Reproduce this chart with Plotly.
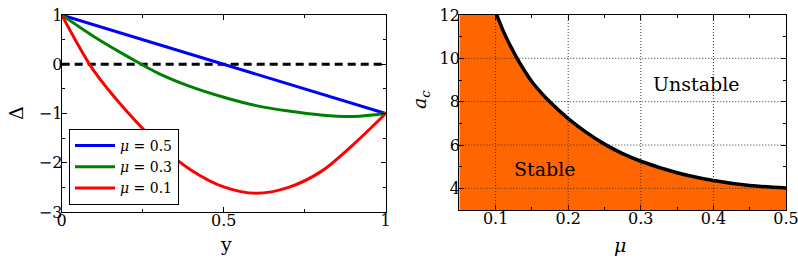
import plotly.graph_objects as go

# ---- Left panel data ----
y_blue = [0.0, 0.5, 1.0]
d_blue = [1.0, 0.0, -1.0]

y_green = [0.0, 0.1, 0.2, 0.3, 0.4, 0.5, 0.6, 0.7, 0.8, 0.9, 1.0]
d_green = [1.0, 0.56, 0.17, -0.19, -0.46, -0.67, -0.84, -0.95, -1.03, -1.06, -1.0]

y_red = [0.0, 0.05, 0.1, 0.2, 0.3, 0.4, 0.5, 0.6, 0.7, 0.8, 0.9, 1.0]
d_red = [1.0, 0.40, -0.14, -0.95, -1.63, -2.15, -2.49, -2.62, -2.50, -2.18, -1.63, -1.0]

left_xticks = [0, 0.5, 1]
left_xtext = ["0", "0.5", "1"]
left_yticks = [-3, -2, -1, 0, 1]
left_ytext = ["\u22123", "\u22122", "\u22121", "0", "1"]

# ---- Right panel data ----
mu = [0.05, 0.07, 0.08, 0.09, 0.10, 0.11, 0.12, 0.13, 0.14, 0.15, 0.175, 0.2, 0.225,
      0.25, 0.275, 0.3, 0.35, 0.4, 0.45, 0.5]
ac = [19.0, 15.7, 14.3, 13.1, 12.15, 11.3, 10.6, 9.98, 9.42, 8.92, 7.98, 7.22, 6.58,
      6.04, 5.6, 5.25, 4.72, 4.36, 4.13, 4.02]

right_xticks = [0.1, 0.2, 0.3, 0.4, 0.5]
right_xtext = ["0.1", "0.2", "0.3", "0.4", "0.5"]
right_yticks = [4, 6, 8, 10, 12]
right_ytext = ["4", "6", "8", "10", "12"]

FONT = "DejaVu Serif"
W, H = 798, 260

fig = go.Figure()

fig.add_trace(go.Scatter(x=[0, 1], y=[0, 0], mode="lines", xaxis="x", yaxis="y",
                         line=dict(color="black", width=3, dash="8px,5px"),
                         showlegend=False, hoverinfo="skip"))
fig.add_trace(go.Scatter(x=y_blue, y=d_blue, mode="lines", name="<i>μ</i> = 0.5",
                         line=dict(color="#0000FF", width=3), xaxis="x", yaxis="y"))
fig.add_trace(go.Scatter(x=y_green, y=d_green, mode="lines", name="<i>μ</i> = 0.3",
                         line=dict(color="#008000", width=3, shape="spline", smoothing=1.0),
                         xaxis="x", yaxis="y"))
fig.add_trace(go.Scatter(x=y_red, y=d_red, mode="lines", name="<i>μ</i> = 0.1",
                         line=dict(color="#FF0000", width=3, shape="spline", smoothing=1.0),
                         xaxis="x", yaxis="y"))

fig.add_trace(go.Scatter(x=mu, y=ac, mode="lines", fill="tozeroy", fillcolor="#FF6600",
                         line=dict(color="black", width=3.5, shape="spline", smoothing=1.0),
                         xaxis="x2", yaxis="y2", showlegend=False, hoverinfo="skip"))

axis_common = dict(showline=True, linecolor="black", linewidth=1.3, mirror="ticks",
                   ticks="inside", ticklen=5, tickwidth=1.3, tickcolor="black",
                   showgrid=False, zeroline=False, automargin=False,
                   ticklabeloverflow="allow",
                   tickfont=dict(family=FONT, size=16, color="black"),
                   layer="above traces")

fig.update_layout(
    width=W, height=H,
    margin=dict(l=0, r=0, t=0, b=0, autoexpand=False),
    paper_bgcolor="white", plot_bgcolor="white",
    font=dict(family=FONT, color="black"),
    xaxis=dict(domain=[61.7 / W, 385.7 / W], range=[0, 1], anchor="y",
               tickmode="array", tickvals=left_xticks, ticktext=left_xtext,
               ticklabelstandoff=-6,
               minor=dict(tickmode="linear", tick0=0, dtick=0.25, ticks="inside",
                          ticklen=3, tickwidth=1.2, tickcolor="black"),
               **axis_common),
    yaxis=dict(domain=[1 - 212 / H, 1 - 15 / H], range=[-3, 1], anchor="x",
               tickmode="array", tickvals=left_yticks, ticktext=left_ytext,
               ticklabelstandoff=-5,
               minor=dict(tickmode="linear", tick0=0, dtick=0.5, ticks="inside",
                          ticklen=3, tickwidth=1.2, tickcolor="black"),
               **axis_common),
    xaxis2=dict(domain=[459.3 / W, 786 / W], range=[0.05, 0.5], anchor="y2",
                tickmode="array", tickvals=right_xticks, ticktext=right_xtext,
                ticklabelstandoff=-6,
                minor=dict(tickmode="linear", tick0=0.05, dtick=0.05, ticks="inside",
                           ticklen=3, tickwidth=1.2, tickcolor="black"),
                **axis_common),
    yaxis2=dict(domain=[1 - 210 / H, 1 - 15 / H], range=[3, 12], anchor="x2",
                tickmode="array", tickvals=right_yticks, ticktext=right_ytext,
                ticklabelstandoff=-5,
                minor=dict(tickmode="linear", tick0=3, dtick=1, ticks="inside",
                           ticklen=3, tickwidth=1.2, tickcolor="black"),
                **axis_common),
    legend=dict(x=69 / W, y=1 - 129 / H, xanchor="left", yanchor="top",
                bgcolor="white", bordercolor="black", borderwidth=1,
                font=dict(family=FONT, size=14, color="black"),
                itemwidth=40, tracegroupgap=0),
)

# dotted grid over the filled region (right panel)
shapes = []
for v in right_xticks[:-1]:
    shapes.append(dict(type="line", xref="x2", yref="y2", x0=v, x1=v, y0=3, y1=12,
                       line=dict(color="#333333", width=1, dash="1px,2px"), layer="above"))
for v in right_yticks[:-1]:
    shapes.append(dict(type="line", xref="x2", yref="y2", x0=0.05, x1=0.5, y0=v, y1=v,
                       line=dict(color="#333333", width=1, dash="1px,2px"), layer="above"))
fig.update_layout(shapes=shapes)

ann_font = dict(family=FONT, size=19, color="black")
ann = dict(xref="paper", yref="paper", showarrow=False, xanchor="center", yanchor="middle")
fig.add_annotation(text="Δ", x=16 / W, y=1 - 113 / H, textangle=-90, font=ann_font, **ann)
fig.add_annotation(text="y", x=226 / W, y=1 - 244 / H, font=ann_font, **ann)
fig.add_annotation(text="<i>a<sub>c</sub></i>", x=421 / W, y=1 - 100 / H, textangle=-90,
                   font=ann_font, **ann)
fig.add_annotation(text="<i>μ</i>", x=620 / W, y=1 - 245 / H, font=ann_font, **ann)
fig.add_annotation(text="Unstable", xref="x2", yref="y2", x=0.376, y=8.83,
                   showarrow=False, font=dict(family=FONT, size=19, color="black"))
fig.add_annotation(text="Stable", xref="x2", yref="y2", x=0.1676, y=4.87,
                   showarrow=False, font=dict(family=FONT, size=19, color="black"))

fig.write_html("out.html", config={"displayModeBar": False},
               post_script="document.body.style.margin='0px';")
